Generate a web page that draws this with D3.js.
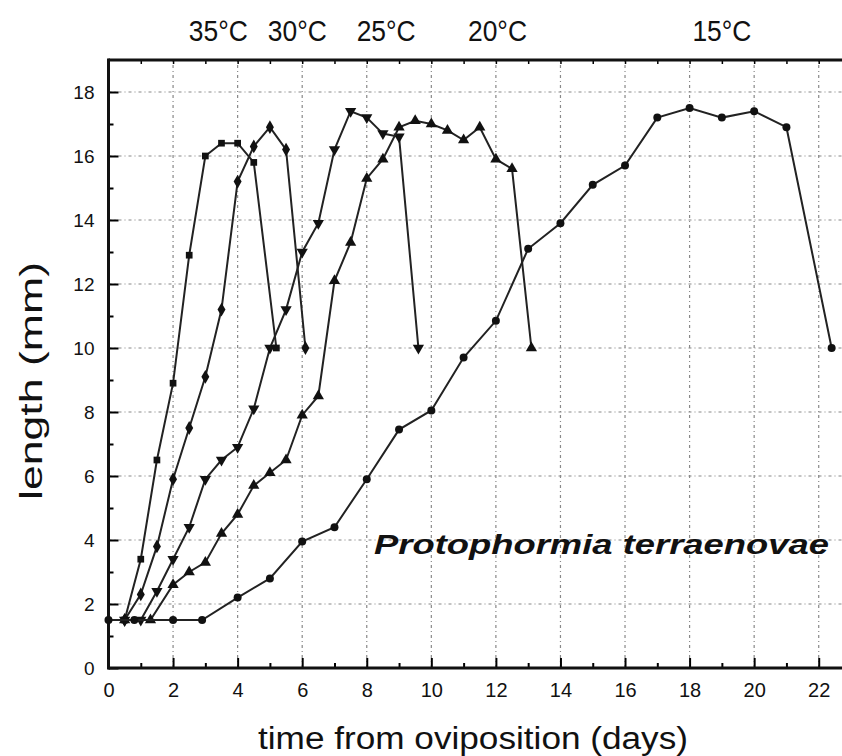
<!DOCTYPE html>
<html>
<head>
<meta charset="utf-8">
<script src="https://cdn.jsdelivr.net/npm/d3@7"></script>
<style>
  body { margin: 0; background: #fff; }
  text { font-family: "Liberation Sans", Arial, sans-serif; fill: #111; }
</style>
</head>
<body>
<div id="chart"></div>
<script>
const width = 842;
const height = 756;
const margin = { left: 108.5, right: -9, top: 60, bottom: 88 };

// days / length (mm) for each rearing temperature
const days35 = [0.5, 1, 1.5, 2, 2.5, 3, 3.5, 4, 4.5, 5.2];
const len35 = [1.5, 3.4, 6.5, 8.9, 12.9, 16.0, 16.4, 16.4, 15.8, 10.0];

const days30 = [0.5, 1, 1.5, 2, 2.5, 3, 3.5, 4, 4.5, 5, 5.5, 6.1];
const len30 = [1.5, 2.3, 3.8, 5.9, 7.5, 9.1, 11.2, 15.2, 16.3, 16.9, 16.2, 10.0];

const days25 = [0.5, 1, 1.5, 2, 2.5, 3, 3.5, 4, 4.5, 5, 5.5, 6, 6.5, 7, 7.5, 8, 8.5, 9, 9.6];
const len25 = [1.5, 1.5, 2.4, 3.4, 4.4, 5.9, 6.5, 6.9, 8.1, 10.0, 11.2, 13.0, 13.9, 16.2, 17.4, 17.2, 16.7, 16.6, 10.0];

const days20 = [0.5, 1.3, 2, 2.5, 3, 3.5, 4, 4.5, 5, 5.5, 6, 6.5, 7, 7.5, 8, 8.5, 9, 9.5, 10, 10.5, 11, 11.5, 12, 12.5, 13.1];
const len20 = [1.5, 1.5, 2.6, 3.0, 3.3, 4.2, 4.8, 5.7, 6.1, 6.5, 7.9, 8.5, 12.1, 13.3, 15.3, 15.9, 16.9, 17.1, 17.0, 16.8, 16.5, 16.9, 15.9, 15.6, 10.0];

const days15 = [0, 0.8, 2, 2.9, 4, 5, 6, 7, 8, 9, 10, 11, 12, 13, 14, 15, 16, 17, 18, 19, 20, 21, 22.4];
const len15 = [1.5, 1.5, 1.5, 1.5, 2.2, 2.8, 3.95, 4.4, 5.9, 7.45, 8.05, 9.7, 10.85, 13.1, 13.9, 15.1, 15.7, 17.2, 17.5, 17.2, 17.4, 16.9, 10.0];

const tempLabels = ["35°C", "30°C", "25°C", "20°C", "15°C"];
const tempLabelDays = [3.4, 5.85, 8.6, 12.05, 19.0];

const xTicks = [0, 2, 4, 6, 8, 10, 12, 14, 16, 18, 20, 22];
const yTicks = [0, 2, 4, 6, 8, 10, 12, 14, 16, 18];

const series = [
  { days: days35, len: len35, symbol: d3.symbolSquare, size: 45 },
  { days: days30, len: len30, symbol: d3.symbolDiamond, size: 55 },
  { days: days25, len: len25, symbol: d3.symbolTriangle, size: 55, flip: true },
  { days: days20, len: len20, symbol: d3.symbolTriangle, size: 55 },
  { days: days15, len: len15, symbol: d3.symbolCircle, size: 50 }
];

const svg = d3
  .select("#chart")
  .append("svg")
  .attr("width", width)
  .attr("height", height);

let x = d3
  .scaleLinear()
  .domain([0, 23])
  .range([margin.left, width - margin.right]);

let y = d3
  .scaleLinear()
  .domain([0, 19])
  .range([height - margin.bottom, margin.top]);

const x0 = x.range()[0];
const x1 = x.range()[1];
const yb = y(0);
const yt = y(19);

// dotted grid
const grid = svg.append("g").attr("stroke", "#888").attr("stroke-width", 1.2)
  .attr("stroke-dasharray", "3,3,1,3");
grid.selectAll(".gx").data(xTicks.slice(1)).join("line")
  .attr("x1", (d) => x(d)).attr("x2", (d) => x(d))
  .attr("y1", yb).attr("y2", yt);
grid.selectAll(".gy").data(yTicks.slice(1)).join("line")
  .attr("x1", x0).attr("x2", x1)
  .attr("y1", (d) => y(d)).attr("y2", (d) => y(d));

// x axis (ticks pointing inwards)
const minorX = d3.range(1, 23, 2);
svg.append("g")
  .attr("transform", `translate(0,${yb})`)
  .call(d3.axisBottom(x).tickValues(minorX).tickSize(-5).tickFormat(""))
  .call((g) => g.select(".domain").remove())
  .selectAll("line").attr("stroke-width", 2);
svg.append("g")
  .attr("class", "x-axis")
  .attr("transform", `translate(0,${yb})`)
  .call(d3.axisBottom(x).tickValues(xTicks).tickSize(-10).tickPadding(15))
  .call((g) => g.select(".domain").remove())
  .call((g) => g.selectAll("line").attr("stroke-width", 2))
  .call((g) => g.selectAll("text").attr("font-size", 20).attr("fill", "#111"));

// y axis
const minorY = d3.range(1, 19, 2);
svg.append("g")
  .attr("transform", `translate(${x0},0)`)
  .call(d3.axisLeft(y).tickValues(minorY).tickSize(-5).tickFormat(""))
  .call((g) => g.select(".domain").remove())
  .selectAll("line").attr("stroke-width", 2);
svg.append("g")
  .attr("class", "y-axis")
  .attr("transform", `translate(${x0},0)`)
  .call(d3.axisLeft(y).tickValues(yTicks).tickSize(-10).tickPadding(14))
  .call((g) => g.select(".domain").remove())
  .call((g) => g.selectAll("line").attr("stroke-width", 2))
  .call((g) => g.selectAll("text").attr("font-size", 19).attr("fill", "#111"));

// top small ticks
svg.append("g")
  .attr("transform", `translate(0,${yt})`)
  .call(d3.axisTop(x).tickValues(d3.range(0, 24, 1)).tickSize(-4).tickFormat(""))
  .call((g) => g.select(".domain").remove())
  .selectAll("line").attr("stroke-width", 1.5);

// frame
svg.append("line").attr("x1", x0).attr("x2", width).attr("y1", yb).attr("y2", yb)
  .attr("stroke", "#111").attr("stroke-width", 3);
svg.append("line").attr("x1", x0).attr("x2", width).attr("y1", yt).attr("y2", yt)
  .attr("stroke", "#111").attr("stroke-width", 3);
svg.append("line").attr("x1", x0).attr("x2", x0).attr("y1", yt - 1.5).attr("y2", yb + 1.5)
  .attr("stroke", "#111").attr("stroke-width", 3);

let line = d3
  .line()
  .x((d) => x(d[0]))
  .y((d) => y(d[1]));

for (let s of series) {
  let pts = s.days.map((d, i) => [d, s.len[i]]);
  let g = svg.append("g");

  g.append("path")
    .datum(pts)
    .attr("fill", "none")
    .attr("stroke", "#222")
    .attr("stroke-width", 2)
    .attr("d", line);

  g.selectAll("path.m")
    .data(pts)
    .join("path")
    .attr("class", "m")
    .attr("d", d3.symbol().type(s.symbol).size(s.size))
    .attr("fill", "#111")
    .attr("transform", (d) => `translate(${x(d[0])},${y(d[1])})` + (s.flip ? " rotate(180)" : ""));
}

// temperature labels above the plot
svg.selectAll(".temp")
  .data(tempLabels)
  .join("text")
  .attr("class", "temp")
  .attr("text-anchor", "middle")
  .attr("font-size", 30)
  .attr("transform", (d, i) => `translate(${x(tempLabelDays[i])},41) scale(0.88,1)`)
  .text((d) => d);

// species name
svg.append("text")
  .attr("x", 374)
  .attr("y", 554)
  .attr("font-size", 28)
  .attr("font-weight", "bold")
  .attr("font-style", "italic")
  .attr("textLength", 455)
  .attr("lengthAdjust", "spacingAndGlyphs")
  .text("Protophormia terraenovae");

// axis titles
svg.append("text")
  .attr("x", 258)
  .attr("y", 749)
  .attr("font-size", 31)
  .attr("textLength", 430)
  .attr("lengthAdjust", "spacingAndGlyphs")
  .text("time from oviposition (days)");

svg.append("text")
  .attr("x", 0)
  .attr("y", 0)
  .attr("transform", `translate(42,500) rotate(-90)`)
  .attr("font-size", 31)
  .attr("textLength", 238)
  .attr("lengthAdjust", "spacingAndGlyphs")
  .text("length (mm)");
</script>
</body>
</html>
